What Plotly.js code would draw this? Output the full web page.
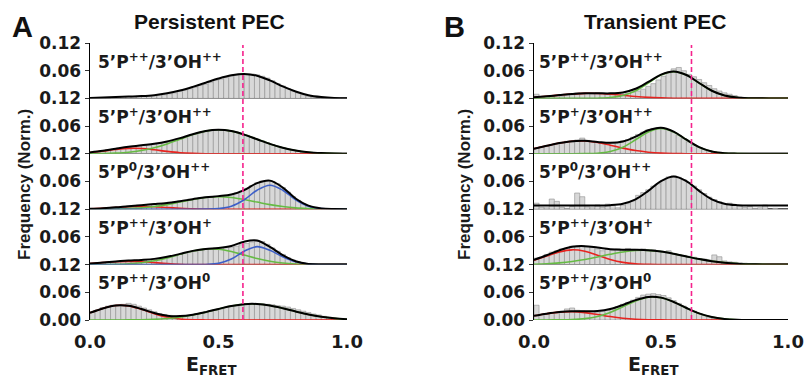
<!DOCTYPE html>
<html><head><meta charset="utf-8">
<script src="https://cdn.plot.ly/plotly-3.0.1.min.js"></script>
<style>html,body{margin:0;padding:0;background:#fff}#chart{width:805px;height:381px}</style>
</head><body><div id="chart"></div>
<script>
// ---------------- DATA ----------------
const panelTitles = ["Persistent PEC", "Transient PEC"];
const panelLetters = ["A", "B"];
const rowLabels = ["5’P<sup>++</sup>/3’OH<sup>++</sup>", "5’P<sup>+</sup>/3’OH<sup>++</sup>", "5’P<sup>0</sup>/3’OH<sup>++</sup>", "5’P<sup>++</sup>/3’OH<sup>+</sup>", "5’P<sup>++</sup>/3’OH<sup>0</sup>"];
const yTickVals = [0, 0.06, 0.12];
const yTickText = ["0.00", "0.06", "0.12"];
const xTickVals = [0, 0.5, 1];
const xTickText = ["0.0", "0.5", "1.0"];
const refLinePersistent = 0.595;
const refLineTransient = 0.62;
// histogram bins: 50 bins of width 0.02 starting at 0 ; fit curves sampled every 0.05 from 0
const binStart = 0.01, binWidth = 0.02, fitStart = 0, fitStep = 0.05;

// Persistent PEC histograms (rows top -> bottom)
const pBars1 = [0,0,0,0,0.001, 0.003,0.004,0.004,0.004,0.005, 0.005,0.005,0.006,0.007,0.008, 0.010,0.012,0.015,0.018,0.021, 0.024,0.028,0.031,0.035,0.039, 0.042,0.045,0.048,0.050,0.052, 0.053,0.053,0.051,0.048,0.044, 0.038,0.032,0.027,0.021,0.016, 0.012,0.008,0.005,0.003,0.001, 0,0,0,0,0];
const pBars2 = [0.004,0.005,0.007,0.009,0.010, 0.012,0.013,0.014,0.016,0.017, 0.018,0.019,0.021,0.022,0.024, 0.026,0.029,0.032,0.035,0.039, 0.042,0.045,0.048,0.050,0.051, 0.052,0.051,0.049,0.047,0.043, 0.040,0.036,0.032,0.028,0.024, 0.020,0.016,0.013,0.010,0.008, 0.006,0.004,0.003,0.002,0.001, 0.001,0,0,0.001,0];
const pBars3 = [0.001,0.001,0.002,0.003,0.004, 0.005,0.006,0.007,0.008,0.009, 0.009,0.010,0.011,0.012,0.013, 0.015,0.016,0.018,0.020,0.022, 0.023,0.025,0.026,0.027,0.028, 0.029,0.030,0.032,0.035,0.039, 0.045,0.051,0.057,0.061,0.062, 0.060,0.055,0.047,0.037,0.027, 0.019,0.012,0.007,0.004,0.002, 0.001,0.001,0,0,0];
const pBars4 = [0.002,0.003,0.004,0.005,0.006, 0.007,0.008,0.009,0.009,0.010, 0.010,0.011,0.012,0.013,0.015, 0.017,0.019,0.022,0.025,0.027, 0.030,0.032,0.034,0.035,0.036, 0.036,0.037,0.038,0.040,0.043, 0.046,0.049,0.051,0.050,0.044, 0.036,0.029,0.022,0.015,0.010, 0.006,0.003,0.001,0.001,0, 0,0,0,0,0];
const pBars5 = [0.018,0.022,0.027,0.030,0.032, 0.033,0.034,0.036,0.034,0.030, 0.026,0.022,0.018,0.014,0.012, 0.010,0.009,0.009,0.009,0.010, 0.012,0.014,0.016,0.019,0.021, 0.024,0.027,0.029,0.031,0.033, 0.034,0.035,0.035,0.035,0.034, 0.033,0.031,0.030,0.028,0.025, 0.022,0.019,0.016,0.013,0.011, 0.008,0.006,0.004,0.003,0.002];

// Persistent PEC fits
const pBlack1 = [0.001,0.002,0.003,0.004,0.005,0.007,0.011,0.017,0.025,0.034,0.043,0.050,0.053,0.049,0.039,0.026,0.015,0.007,0.003,0.001,0.0005];
const pRed2 = [0.0028,0.0058,0.0094,0.0118,0.0115,0.0087,0.0052,0.0024,0.0009,0.0002,0,0,0,0,0,0,0,0,0,0,0];
const pGreen2 = [0.0002,0.0006,0.0015,0.0034,0.0071,0.013,0.0214,0.0315,0.0416,0.0492,0.052,0.0492,0.0416,0.0315,0.0214,0.013,0.0071,0.0034,0.0015,0.0006,0.0002];
const pBlack2 = [0.003,0.0064,0.0109,0.0152,0.0186,0.0217,0.0266,0.0339,0.0425,0.0494,0.052,0.0492,0.0416,0.0315,0.0214,0.013,0.0071,0.0034,0.0015,0.0006,0.0002];
const pRed3 = [0.0008,0.002,0.0036,0.0053,0.006,0.0053,0.0036,0.002,0.0008,0.0003,0.0001,0,0,0,0,0,0,0,0,0,0];
const pGreen3 = [0.0001,0.0002,0.0005,0.0013,0.0028,0.0057,0.0099,0.0154,0.021,0.0254,0.027,0.0254,0.021,0.0154,0.0099,0.0057,0.0028,0.0013,0.0005,0.0002,0.0001];
const pBlue3 = [0,0,0,0,0,0,0,0,0,0.0002,0.0012,0.0064,0.0204,0.0412,0.052,0.0412,0.0204,0.0064,0.0013,0.0002,0];
const pBlack3 = [0.0009,0.0022,0.0041,0.0066,0.0088,0.011,0.0135,0.0174,0.0218,0.0259,0.0283,0.0318,0.0414,0.0566,0.0619,0.0469,0.0232,0.0077,0.0018,0.0004,0.0001];
const pRed4 = [0.0023,0.0042,0.0062,0.007,0.0062,0.0042,0.0023,0.0009,0.0003,0.0001,0,0,0,0,0,0,0,0,0,0,0];
const pGreen4 = [0.0001,0.0002,0.0006,0.0017,0.004,0.0082,0.0145,0.0223,0.0294,0.0336,0.0331,0.0282,0.0207,0.0131,0.0072,0.0034,0.0014,0.0005,0.0002,0.0001,0];
const pBlue4 = [0,0,0,0,0,0,0,0,0,0.0003,0.0027,0.012,0.029,0.039,0.031,0.017,0.006,0.001,0,0,0];
const pBlack4 = [0.0024,0.0044,0.0068,0.0087,0.0102,0.0124,0.0168,0.0232,0.0297,0.034,0.0358,0.0402,0.0497,0.0521,0.0382,0.0204,0.0074,0.0015,0.0002,0.0001,0];
const pRed5 = [0.0156,0.025,0.0314,0.0306,0.0232,0.0138,0.0063,0.0023,0.0006,0.0001,0,0,0,0,0,0,0,0,0,0,0];
const pGreen5 = [0,0,0.0001,0.0002,0.0006,0.0014,0.0031,0.0061,0.0108,0.017,0.024,0.0304,0.0343,0.0347,0.0314,0.0254,0.0184,0.0119,0.0069,0.0036,0.0017];
const pBlack5 = [0.0156,0.025,0.0315,0.0308,0.0238,0.0152,0.0094,0.0084,0.0114,0.0171,0.024,0.0304,0.0343,0.0347,0.0314,0.0254,0.0184,0.0119,0.0069,0.0036,0.0017];

// Transient PEC histograms
const tBars1 = [0.009,0.003,0.004,0.005,0.006, 0.005,0.007,0.008,0.012,0.010, 0.011,0.010,0.012,0.011,0.010, 0.011,0.012,0.009,0.011,0.013, 0.016,0.020,0.026,0.032,0.040, 0.048,0.055,0.064,0.067,0.060, 0.052,0.047,0.041,0.034,0.028, 0.021,0.016,0.012,0.009,0.006, 0.003,0.002,0.001,0.001,0, 0,0,0,0,0];
const tBars2 = [0.012,0.015,0.017,0.020,0.022, 0.024,0.027,0.025,0.030,0.034, 0.029,0.027,0.025,0.024,0.022, 0.023,0.025,0.028,0.031,0.036, 0.042,0.047,0.052,0.055,0.057, 0.055,0.052,0.046,0.040,0.033, 0.026,0.019,0.014,0.010,0.007, 0.005,0.003,0.002,0.001,0.001, 0,0,0,0,0, 0,0,0,0,0];
const tBars3 = [0.013,0.004,0.003,0.022,0.017, 0.004,0.002,0.006,0.035,0.027, 0.005,0.003,0.009,0.004,0.011, 0.008,0.003,0.009,0.012,0.018, 0.030,0.036,0.042,0.050,0.055, 0.062,0.070,0.072,0.069,0.064, 0.058,0.050,0.042,0.034,0.026, 0.021,0.016,0.011,0.013,0.008, 0.009,0.004,0.006,0.002,0.003, 0.009,0,0.002,0,0];
const tBars4 = [0.014,0.016,0.022,0.027,0.030, 0.034,0.036,0.040,0.038,0.041, 0.039,0.037,0.034,0.030,0.033, 0.031,0.034,0.032,0.035,0.033, 0.031,0.034,0.030,0.032,0.029, 0.027,0.030,0.024,0.022,0.020, 0.018,0.016,0.013,0.012,0.010, 0.021,0.017,0.008,0.006,0.005, 0.004,0.003,0.002,0.001,0.001, 0,0,0,0,0];
const tBars5 = [0.032,0.012,0.014,0.015,0.016, 0.019,0.024,0.026,0.021,0.020, 0.019,0.018,0.017,0.019,0.021, 0.024,0.029,0.034,0.038,0.043, 0.049,0.054,0.056,0.057,0.055, 0.053,0.048,0.042,0.036,0.030, 0.024,0.019,0.014,0.010,0.006, 0.004,0.003,0.002,0.001,0.001, 0,0,0,0,0, 0,0,0,0,0];

// Transient PEC fits
const tRed1 = [0.0026,0.0047,0.0072,0.0095,0.0109,0.0107,0.0091,0.0067,0.0042,0.0023,0.0011,0.0004,0.0002,0.0001,0,0,0,0,0,0,0];
const tGreen1 = [0,0,0,0,0.0001,0.0004,0.0018,0.0063,0.0166,0.0333,0.0505,0.058,0.0505,0.0333,0.0166,0.0063,0.0018,0.0004,0.0001,0,0];
const tBlack1 = [0.0026,0.0047,0.0072,0.0095,0.011,0.0111,0.0109,0.013,0.0208,0.0356,0.0516,0.0584,0.0507,0.0334,0.0166,0.0063,0.0018,0.0004,0.0001,0,0];
const tRed2 = [0.0111,0.0173,0.0233,0.0273,0.0277,0.0243,0.0186,0.0123,0.007,0.0035,0.0015,0.0006,0.0002,0.0001,0,0,0,0,0,0,0];
const tGreen2 = [0,0,0,0,0.0003,0.0013,0.0051,0.0144,0.0303,0.0474,0.055,0.0474,0.0303,0.0144,0.0051,0.0013,0.0003,0,0,0,0];
const tBlack2 = [0.0111,0.0173,0.0233,0.0273,0.028,0.0256,0.0237,0.0267,0.0373,0.0509,0.0565,0.048,0.0305,0.0145,0.0051,0.0013,0.0003,0,0,0,0];
const tBlack3 = [0.008,0.008,0.008,0.008,0.008,0.008,0.0088,0.012,0.0214,0.0396,0.061,0.071,0.061,0.0396,0.0214,0.012,0.0088,0.0081,0.008,0.008,0.008];
const tRed4 = [0.0096,0.0184,0.0275,0.032,0.0289,0.0204,0.0112,0.0048,0.0016,0.0004,0.0001,0,0,0,0,0,0,0,0,0,0];
const tGreen4 = [0.0008,0.0018,0.0037,0.0067,0.011,0.0165,0.0223,0.0274,0.0305,0.0308,0.0282,0.0234,0.0176,0.012,0.0075,0.0042,0.0021,0.001,0.0004,0.0002,0.0001];
const tBlack4 = [0.0104,0.0202,0.0312,0.0387,0.0399,0.0369,0.0335,0.0322,0.0321,0.0312,0.0283,0.0234,0.0176,0.012,0.0075,0.0042,0.0021,0.001,0.0004,0.0002,0.0001];
const tRed5 = [0.0091,0.0136,0.017,0.018,0.0159,0.0118,0.0074,0.0039,0.0017,0.0006,0.0002,0.0001,0,0,0,0,0,0,0,0,0];
const tGreen5 = [0,0.0001,0.0003,0.001,0.003,0.0077,0.0164,0.0287,0.0414,0.0493,0.0483,0.039,0.026,0.0143,0.0065,0.0024,0.0007,0.0002,0.0001,0,0];
const tBlack5 = [0.0091,0.0137,0.0173,0.019,0.0189,0.0195,0.0238,0.0326,0.0431,0.0499,0.0485,0.0391,0.026,0.0143,0.0065,0.0024,0.0007,0.0002,0.0001,0,0];

// ---------------- BUILD ----------------
const W = 805, H = 381;
const px = v => v / W, py = v => 1 - v / H;
const xDom = [[px(90), px(347)], [px(534), px(788)]];
const plotTop = 43, plotBottom = 320, band = (plotBottom - plotTop) / 5;
const COLORS = {red: '#e8231f', green: '#66bb44', blue: '#3d5fc8', black: '#000000'};

const panels = [
  {bars: [pBars1, pBars2, pBars3, pBars4, pBars5],
   fits: [{black: pBlack1}, {red: pRed2, green: pGreen2, black: pBlack2},
          {red: pRed3, green: pGreen3, blue: pBlue3, black: pBlack3},
          {red: pRed4, green: pGreen4, blue: pBlue4, black: pBlack4},
          {red: pRed5, green: pGreen5, black: pBlack5}],
   ref: refLinePersistent},
  {bars: [tBars1, tBars2, tBars3, tBars4, tBars5],
   fits: [{red: tRed1, green: tGreen1, black: tBlack1}, {red: tRed2, green: tGreen2, black: tBlack2},
          {black: tBlack3}, {red: tRed4, green: tGreen4, black: tBlack4},
          {red: tRed5, green: tGreen5, black: tBlack5}],
   ref: refLineTransient}
];

const tickFont = {family: 'DejaVu Sans', size: 17, color: '#1a1a1a', weight: 'bold'};
const traces = [], shapes = [], annotations = [];
const layout = {
  width: W, height: H, autosize: false,
  margin: {l: 0, r: 0, t: 0, b: 0},
  paper_bgcolor: '#fff', plot_bgcolor: 'rgba(0,0,0,0)',
  showlegend: false, hovermode: false, bargap: 0,
};

panels.forEach((panel, p) => {
  const xName = p === 0 ? 'x' : 'x2';
  const xKey = p === 0 ? 'xaxis' : 'xaxis2';
  layout[xKey] = {
    domain: xDom[p], range: [0, 1], anchor: 'y' + (p * 5 + 5),
    showline: false, showgrid: false, zeroline: false, ticks: '',
    tickvals: xTickVals, ticktext: xTickText, tickfont: {...tickFont, size: 18},
    ticklabelstandoff: 9,
  };
  for (let r = 0; r < 5; r++) {
    const idx = p * 5 + r + 1;
    const yName = idx === 1 ? 'y' : 'y' + idx;
    const yKey = idx === 1 ? 'yaxis' : 'yaxis' + idx;
    const top = plotTop + r * band, bot = plotTop + (r + 1) * band;
    const last = r === 4;
    layout[yKey] = {
      domain: [py(bot), py(top)], range: [0, 0.12], anchor: xName,
      showline: true, linecolor: '#000', linewidth: 1.5, showgrid: false, zeroline: false,
      ticks: 'outside', ticklen: 4, tickwidth: 1, tickcolor: '#333',
      tickvals: last ? yTickVals : yTickVals.slice(1), ticktext: last ? yTickText : yTickText.slice(1),
      tickfont: tickFont,
    };
    traces.push({type: 'bar', xaxis: xName, yaxis: yName, x0: binStart, dx: binWidth, y: panel.bars[r],
      marker: {color: '#d8d8d8', line: {color: '#8e8e8e', width: 0.6}}});
    const f = panel.fits[r];
    ['red', 'green', 'blue', 'black'].forEach(c => {
      if (!f[c]) return;
      traces.push({type: 'scatter', mode: 'lines', xaxis: xName, yaxis: yName, x0: fitStart, dx: fitStep, y: f[c],
        line: {color: COLORS[c], width: c === 'black' ? 2 : 1.6, shape: 'spline', smoothing: 1}});
    });
    shapes.push({type: 'line', xref: xName, yref: yName, x0: 0, x1: 1, y0: 0, y1: 0,
      line: {color: '#000', width: 2}, layer: 'below'});
    annotations.push({xref: xName, yref: yName, x: p === 0 ? 0.024 : 0.013, y: 0.082, xanchor: 'left', yanchor: 'middle',
      text: rowLabels[r], showarrow: false, font: {family: 'DejaVu Sans', size: 17, color: '#1a1a1a', weight: 'bold'}});
  }
  shapes.push({type: 'line', xref: xName, yref: 'paper', x0: panel.ref, x1: panel.ref, y0: py(plotBottom), y1: py(45),
    line: {color: '#f5228c', width: 1.6, dash: '5px,3px'}, layer: 'above'});
});

const titleX = [209, 655], letterX = [22, 455], yTitleX = [25, 465], xTitleX = [211, 653];
panels.forEach((panel, p) => {
  annotations.push({xref: 'paper', yref: 'paper', x: px(titleX[p]), y: py(21), xanchor: 'center', yanchor: 'middle',
    text: panelTitles[p], showarrow: false, font: {family: 'Liberation Sans', size: 21, color: '#111', weight: 'bold'}});
  annotations.push({xref: 'paper', yref: 'paper', x: px(letterX[p]), y: py(27), xanchor: 'center', yanchor: 'middle',
    text: panelLetters[p], showarrow: false, font: {family: 'Liberation Sans', size: 29, color: '#111', weight: 'bold'}});
  annotations.push({xref: 'paper', yref: 'paper', x: px(yTitleX[p]), y: py(185), xanchor: 'center', yanchor: 'middle',
    text: 'Frequency (Norm.)', textangle: -90, showarrow: false,
    font: {family: 'Liberation Sans', size: 17, color: '#1a1a1a', weight: 'bold'}});
  annotations.push({xref: 'paper', yref: 'paper', x: px(xTitleX[p]), y: py(365), xanchor: 'center', yanchor: 'middle',
    text: 'E<sub>FRET</sub>', showarrow: false, font: {family: 'DejaVu Sans', size: 19, color: '#1a1a1a', weight: 'bold'}});
});

layout.shapes = shapes;
layout.annotations = annotations;
Plotly.newPlot('chart', traces, layout, {staticPlot: true, displayModeBar: false});
</script>
</body></html>
